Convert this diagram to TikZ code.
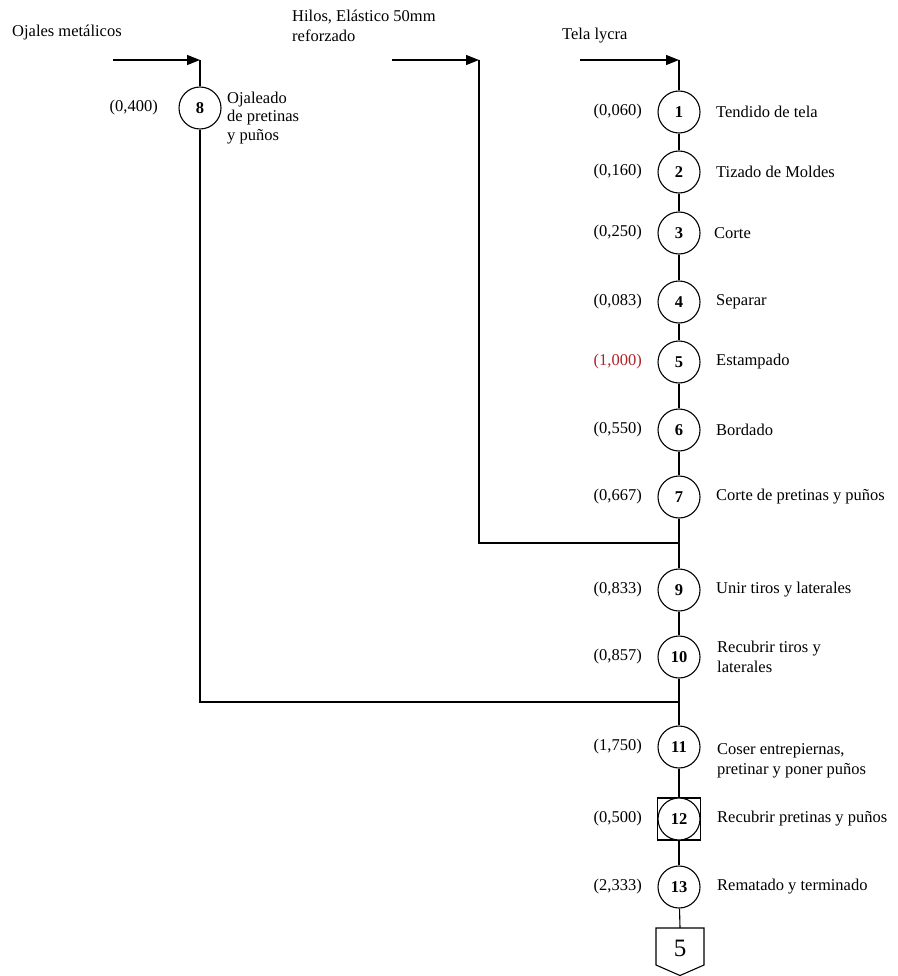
\documentclass[tikz,border=0pt]{standalone}
\usepackage{fontspec}
\setmainfont{Liberation Serif}
\usetikzlibrary{arrows.meta}
\definecolor{timered}{RGB}{175,35,40}
\begin{document}
\begin{tikzpicture}[x=1pt,y=-1pt,
  every node/.style={inner sep=0pt, font=\fontsize{16.5}{20}\selectfont},
  op/.style={draw, circle, line width=1.1pt, minimum size=42pt, inner sep=0pt,
    fill=white, font=\fontsize{16.5}{20}\selectfont\bfseries},
  inspect/.style={draw, rectangle, line width=1.1pt, minimum width=43pt,
    minimum height=42pt, inner sep=0pt},
  flow/.style={line width=1.1pt},
  feed/.style={line width=1.1pt, -{Triangle[length=13pt,width=10pt]}},
  tlab/.style={anchor=east},
  dlab/.style={anchor=west, align=left},
]
\useasboundingbox (0,0) rectangle (897,976);

% raw material inputs
\node[anchor=west] (mat8) at (12,33) {Ojales metálicos};
\node[dlab] (mat7) at (292,26) {Hilos, Elástico 50mm\\reforzado};
\node[anchor=west] (mat1) at (562,36) {Tela lycra};

\coordinate (osrc) at (113,60);  \coordinate (oin) at (200,60);
\coordinate (hsrc) at (392,60);  \coordinate (hin) at (479,60);
\coordinate (tsrc) at (580,60);  \coordinate (tin) at (679,60);
\coordinate (j1) at (679,543);
\coordinate (j2) at (679,702);
\coordinate (ptop) at (680,928);

% operations
\node[op] (n8) at (200,108) {8};
\node[op] (n1) at (679,112) {1};
\node[op] (n2) at (679,172) {2};
\node[op] (n3) at (679,233) {3};
\node[op] (n4) at (679,302) {4};
\node[op] (n5) at (679,362) {5};
\node[op] (n6) at (679,430) {6};
\node[op] (n7) at (679,497) {7};
\node[op] (n9) at (679,590) {9};
\node[op] (n10) at (679,657) {10};
\node[op] (n11) at (679,747) {11};
\node[inspect] (sq12) at (679,819) {};
\node[op] (n12) at (679,819) {12};
\node[op] (n13) at (679,887) {13};

% storage symbol
\draw[flow] (656,928) -- (704,928) -- (704,965) -- (680,975.5) -- (656,965) -- cycle;
\node[font=\fontsize{25}{28}\selectfont] (fin) at (680,948) {5};

% connectors
\draw[feed] (osrc) -- (oin);
\draw[feed] (hsrc) -- (hin);
\draw[feed] (tsrc) -- (tin);
\draw[flow] (oin) -- (n8);
\draw[flow] (n8) |- (j2);
\draw[flow] (hin) |- (j1);
\draw[flow] (tin) -- (n1);
\draw[flow] (n1) -- (n2);
\draw[flow] (n2) -- (n3);
\draw[flow] (n3) -- (n4);
\draw[flow] (n4) -- (n5);
\draw[flow] (n5) -- (n6);
\draw[flow] (n6) -- (n7);
\draw[flow] (n7) -- (j1) -- (n9);
\draw[flow] (n9) -- (n10);
\draw[flow] (n10) -- (j2) -- (n11);
\draw[flow] (n11) -- (sq12);
\draw[flow] (sq12) -- (n13);
\draw[flow] (n13) -- (ptop);

% times
\node[tlab] (t8) at (158,108) {(0,400)};
\node[tlab] (t1) at (642,112) {(0,060)};
\node[tlab] (t2) at (642,172) {(0,160)};
\node[tlab] (t3) at (642,233) {(0,250)};
\node[tlab] (t4) at (642,302) {(0,083)};
\node[tlab, text=timered] (t5) at (642,362) {(1,000)};
\node[tlab] (t6) at (642,430) {(0,550)};
\node[tlab] (t7) at (642,497) {(0,667)};
\node[tlab] (t9) at (642,590) {(0,833)};
\node[tlab] (t10) at (642,657) {(0,857)};
\node[tlab] (t11) at (642,747) {(1,750)};
\node[tlab] (t12) at (642,819) {(0,500)};
\node[tlab] (t13) at (642,887) {(2,333)};

% descriptions
\node[dlab, font=\fontsize{16.5}{18.5}\selectfont] (d8) at (227,118) {Ojaleado\\de pretinas\\y puños};
\node[dlab] (d1) at (716,112) {Tendido de tela};
\node[dlab] (d2) at (716,172) {Tizado de Moldes};
\node[dlab] (d3) at (714,233) {Corte};
\node[dlab] (d4) at (716,302) {Separar};
\node[dlab] (d5) at (716,362) {Estampado};
\node[dlab] (d6) at (716,430) {Bordado};
\node[dlab] (d7) at (716,497) {Corte de pretinas y puños};
\node[dlab] (d9) at (716,590) {Unir tiros y laterales};
\node[dlab] (d10) at (717,657) {Recubrir tiros y\\laterales};
\node[dlab] (d11) at (717,761) {Coser entrepiernas,\\pretinar y poner puños};
\node[dlab] (d12) at (717,819) {Recubrir pretinas y puños};
\node[dlab] (d13) at (717,887) {Rematado y terminado};
\end{tikzpicture}
\end{document}
